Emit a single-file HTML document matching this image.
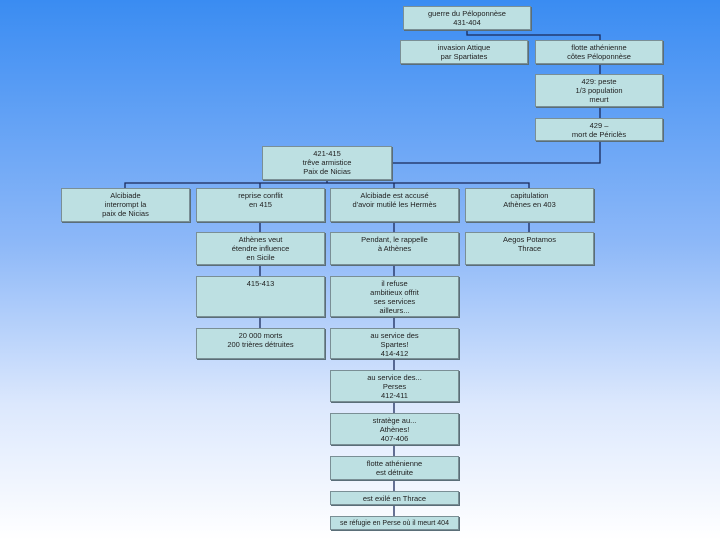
<!DOCTYPE html>
<html><head><meta charset="utf-8"><style>
body{margin:0;width:720px;height:540px;overflow:hidden;background:linear-gradient(#3a8cf2 0%,#8db8f8 45%,#dce8fd 75%,#ffffff 100%);font-family:"Liberation Sans",sans-serif;}
.b{position:absolute;background:#bde0e2;border:1px solid #7a8f95;box-shadow:1px 1px 0 #5a6e78;box-sizing:border-box;font-size:7.5px;line-height:9px;text-align:center;color:#222;padding-top:2px;}
svg{position:absolute;left:0;top:0}
</style></head><body>
<svg width="720" height="540"><g stroke="#1a2a5a" stroke-width="1.3" fill="none">
<path d="M467 29V35H600V40"/>
<path d="M600 63V74M600 106V118M600 140V163H392"/>
<path d="M327 179V183M125 188V183H529V188M260 183V188M394 183V188"/>
<path d="M260 221V232M260 264V276M260 316V328"/>
<path d="M394 221V232M394 264V276M394 316V328M394 358V370M394 401V413M394 444V456M394 479V491M394 504V516"/>
<path d="M529 221V232"/>
</g></svg>
<div class="b" style="left:403px;top:6px;width:128px;height:24px">guerre du Péloponnèse<br>431-404</div>
<div class="b" style="left:400px;top:40px;width:128px;height:24px">invasion Attique<br>par Spartiates</div>
<div class="b" style="left:535px;top:40px;width:128px;height:24px">flotte athénienne<br>côtes Péloponnèse</div>
<div class="b" style="left:535px;top:74px;width:128px;height:33px">429: peste<br>1/3 population<br>meurt</div>
<div class="b" style="left:535px;top:118px;width:128px;height:23px">429 –<br>mort de Périclès</div>
<div class="b" style="left:262px;top:146px;width:130px;height:34px">421-415<br>trêve armistice<br>Paix de Nicias</div>
<div class="b" style="left:61px;top:188px;width:129px;height:34px">Alcibiade<br>interrompt la<br>paix de Nicias</div>
<div class="b" style="left:196px;top:188px;width:129px;height:34px">reprise conflit<br>en 415</div>
<div class="b" style="left:330px;top:188px;width:129px;height:34px">Alcibiade est accusé<br>d'avoir mutilé les Hermès</div>
<div class="b" style="left:465px;top:188px;width:129px;height:34px">capitulation<br>Athènes en 403</div>
<div class="b" style="left:196px;top:232px;width:129px;height:33px">Athènes veut<br>étendre influence<br>en Sicile</div>
<div class="b" style="left:330px;top:232px;width:129px;height:33px">Pendant, le rappelle<br>à Athènes</div>
<div class="b" style="left:465px;top:232px;width:129px;height:33px">Aegos Potamos<br>Thrace</div>
<div class="b" style="left:196px;top:276px;width:129px;height:41px">415-413</div>
<div class="b" style="left:330px;top:276px;width:129px;height:41px">il refuse<br>ambitieux offrit<br>ses services<br>ailleurs...</div>
<div class="b" style="left:196px;top:328px;width:129px;height:31px">20 000 morts<br>200 trières détruites</div>
<div class="b" style="left:330px;top:328px;width:129px;height:31px">au service des<br>Spartes!<br>414-412</div>
<div class="b" style="left:330px;top:370px;width:129px;height:32px">au service des...<br>Perses<br>412-411</div>
<div class="b" style="left:330px;top:413px;width:129px;height:32px">stratège au...<br>Athènes!<br>407-406</div>
<div class="b" style="left:330px;top:456px;width:129px;height:24px">flotte athénienne<br>est détruite</div>
<div class="b" style="left:330px;top:491px;width:129px;height:14px;padding-top:2px">est exilé en Thrace</div>
<div class="b" style="left:330px;top:516px;width:129px;height:14px;padding-top:2px;white-space:nowrap;font-size:7px">se réfugie en Perse où il meurt 404</div>
</body></html>
